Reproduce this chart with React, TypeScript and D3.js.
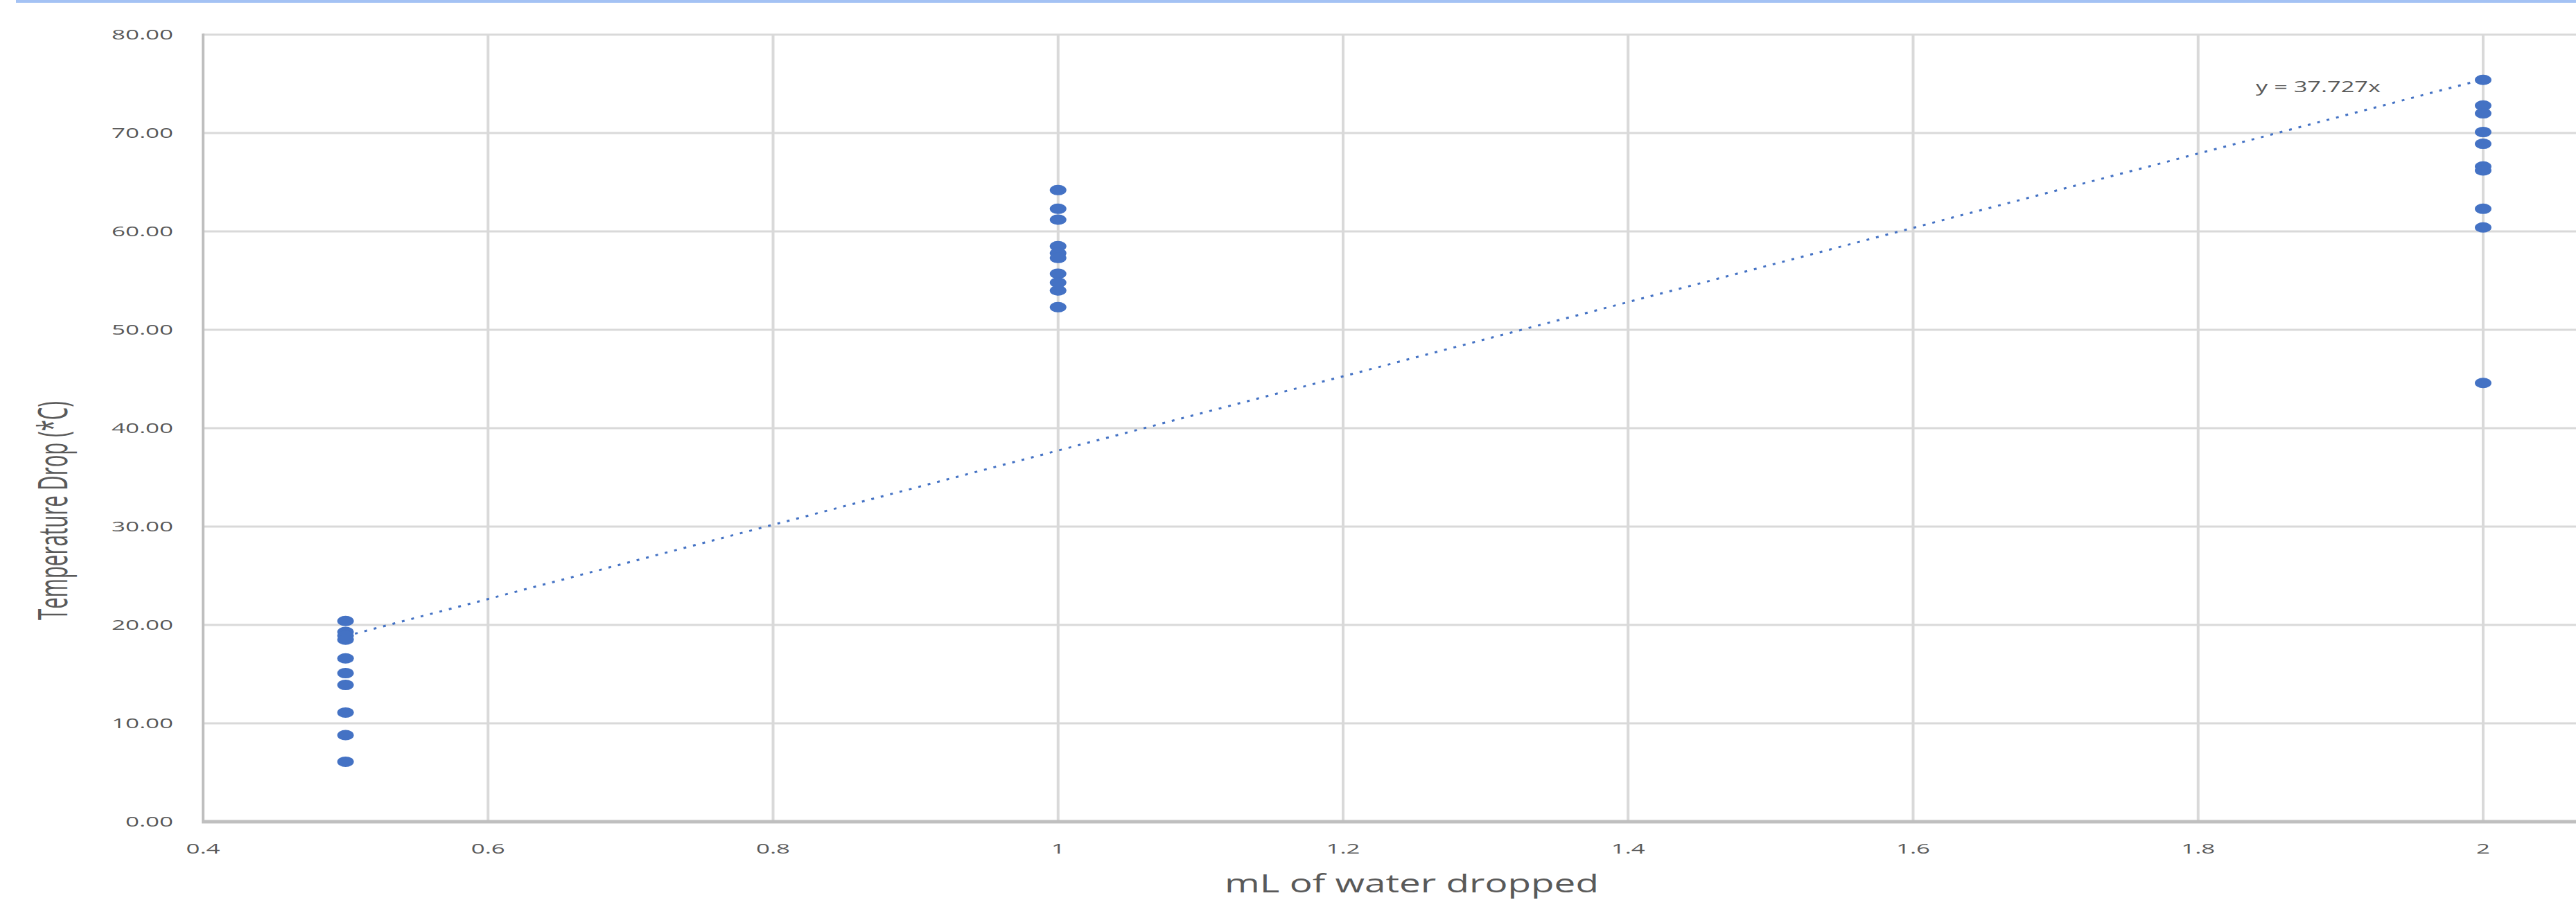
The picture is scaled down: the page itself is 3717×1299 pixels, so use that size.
import React, { useRef, useEffect } from 'react'
import * as d3 from 'd3'

// water volumes (mL) and measured temperature drops (°C)
const volumes = [0.5, 1, 2]
const dropsHalfMl = [20.4, 19.3, 18.9, 18.5, 16.6, 15.1, 13.9, 11.1, 8.8, 6.1]
const dropsOneMl = [64.2, 62.3, 61.2, 58.5, 57.8, 57.3, 55.7, 54.8, 54.0, 52.3]
const dropsTwoMl = [75.4, 72.8, 72.0, 70.1, 68.9, 66.6, 66.2, 62.3, 60.4, 44.6]

const xTicks = [0.4, 0.6, 0.8, 1, 1.2, 1.4, 1.6, 1.8, 2, 2.2]
const yTicks = [0, 10, 20, 30, 40, 50, 60, 70, 80]
const trendSlope = 37.727

const W = 3717
const H = 1299

// the screenshot is stretched sideways, so text is widened with textLength
const textW = (s: string) =>
  [...s].reduce((w, c) => w + (c === '.' ? 9 : 20), 0)

export default function App() {
  const ref = useRef<SVGSVGElement>(null)

  useEffect(() => {
    const svg = d3.select(ref.current)
    svg.selectAll('*').remove()

    const x = d3.scaleLinear().domain([0.4, 2.2]).range([293, 3994.25])
    const y = d3.scaleLinear().domain([0, 80]).range([1186, 50])
    const fmtX = (d: number) => String(+d.toFixed(1))
    const fmtY = d3.format('.2f')
    const textColor = '#595959'
    const font = "'Open Sans', sans-serif"

    svg.append('rect').attr('width', W).attr('height', H).attr('fill', '#fff')

    // top blue band
    svg
      .append('rect')
      .attr('x', 23)
      .attr('y', 0)
      .attr('width', W - 23)
      .attr('height', 4)
      .attr('fill', '#a4c2f4')

    const grid = svg.append('g')
    grid
      .selectAll('line.h')
      .data(yTicks.filter(d => d > 0))
      .enter()
      .append('line')
      .attr('x1', x(0.4))
      .attr('x2', W)
      .attr('y1', d => y(d))
      .attr('y2', d => y(d))
      .attr('stroke', '#d9d9d9')
      .attr('stroke-width', 3)
    grid
      .selectAll('line.v')
      .data(xTicks.filter(d => d > 0.4))
      .enter()
      .append('line')
      .attr('x1', d => x(d))
      .attr('x2', d => x(d))
      .attr('y1', y(80))
      .attr('y2', y(0))
      .attr('stroke', '#d9d9d9')
      .attr('stroke-width', 4)

    // axis lines
    svg
      .append('line')
      .attr('x1', x(0.4))
      .attr('x2', x(0.4))
      .attr('y1', y(80) - 1.5)
      .attr('y2', y(0))
      .attr('stroke', '#bfbfbf')
      .attr('stroke-width', 4)
    svg
      .append('line')
      .attr('x1', x(0.4) - 2)
      .attr('x2', W)
      .attr('y1', y(0))
      .attr('y2', y(0))
      .attr('stroke', '#bfbfbf')
      .attr('stroke-width', 5)

    // trendline through the origin, drawn over the data range
    const trend = d3
      .line<number>()
      .x(d => x(d))
      .y(d => y(trendSlope * d))
    svg
      .append('path')
      .attr('d', trend([d3.min(volumes)!, d3.max(volumes)!]))
      .attr('fill', 'none')
      .attr('stroke', '#4472c4')
      .attr('stroke-width', 3)
      .attr('stroke-dasharray', '4 10')

    const points = [
      ...dropsHalfMl.map(v => ({ x: volumes[0], v })),
      ...dropsOneMl.map(v => ({ x: volumes[1], v })),
      ...dropsTwoMl.map(v => ({ x: volumes[2], v })),
    ]
    svg
      .append('g')
      .selectAll('ellipse')
      .data(points)
      .enter()
      .append('ellipse')
      .attr('cx', d => x(d.x))
      .attr('cy', d => y(d.v))
      .attr('rx', 12)
      .attr('ry', 7.5)
      .attr('fill', '#4472c4')

    // tick labels
    svg
      .append('g')
      .selectAll('text')
      .data(yTicks)
      .enter()
      .append('text')
      .attr('x', 250)
      .attr('y', d => y(d) + 7)
      .attr('text-anchor', 'end')
      .attr('font-family', font)
      .attr('font-size', 20)
      .attr('fill', textColor)
      .attr('textLength', d => textW(fmtY(d)))
      .attr('lengthAdjust', 'spacingAndGlyphs')
      .text(d => fmtY(d))

    // the 2.2 label falls off the cropped picture
    svg
      .append('g')
      .selectAll('text')
      .data(xTicks.filter(d => x(d) + textW(fmtX(d)) / 2 < W))
      .enter()
      .append('text')
      .attr('x', d => x(d))
      .attr('y', 1232)
      .attr('text-anchor', 'middle')
      .attr('font-family', font)
      .attr('font-size', 20)
      .attr('fill', textColor)
      .attr('textLength', d => textW(fmtX(d)))
      .attr('lengthAdjust', 'spacingAndGlyphs')
      .text(d => fmtX(d))

    // axis titles
    svg
      .append('text')
      .attr('x', 2037)
      .attr('y', 1288)
      .attr('text-anchor', 'middle')
      .attr('font-family', font)
      .attr('font-size', 37)
      .attr('fill', textColor)
      .attr('textLength', 540)
      .attr('lengthAdjust', 'spacingAndGlyphs')
      .text('mL of water dropped')

    svg
      .append('text')
      .attr('transform', 'translate(97,737) scale(1.7,1) rotate(-90)')
      .attr('text-anchor', 'middle')
      .attr('font-family', font)
      .attr('font-size', 34)
      .attr('fill', textColor)
      .attr('textLength', 316)
      .attr('lengthAdjust', 'spacingAndGlyphs')
      .text('Temperature Drop (*C)')

    // trendline equation
    svg
      .append('text')
      .attr('x', 3255)
      .attr('y', 133)
      .attr('font-family', font)
      .attr('font-size', 22)
      .attr('fill', textColor)
      .attr('textLength', 180)
      .attr('lengthAdjust', 'spacingAndGlyphs')
      .text(`y = ${trendSlope}x`)
  }, [])

  return (
    <svg
      ref={ref}
      width={W}
      height={H}
      style={{ position: 'absolute', left: 0, top: 0, display: 'block' }}
    ></svg>
  )
}
